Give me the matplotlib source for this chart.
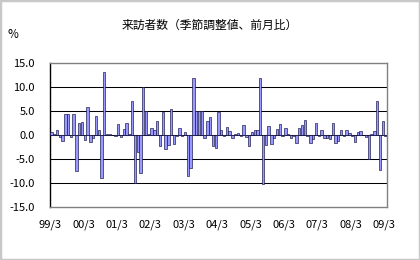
import numpy as np
import matplotlib
matplotlib.use("Agg")
import matplotlib.pyplot as plt
from matplotlib.patches import Rectangle

plt.rcParams['font.family'] = ['Noto Sans CJK JP', 'DejaVu Sans']

title = "来訪者数（季節調整値、前月比）"
y_unit = "%"
x_labels = ["99/3", "00/3", "01/3", "02/3", "03/3", "04/3", "05/3",
            "06/3", "07/3", "08/3", "09/3"]
y_ticks = [-15, -10, -5, 0, 5, 10, 15]

# month-on-month change (%), 1999/3 .. 2009/3
values = [
    0.6, 0.3, 1.0, -0.5, -1.3, 4.3, 4.3, -0.5, 4.3, -7.4, 2.6, 2.8,
    -1.1, 5.8, -1.5, -0.7, 3.9, 1.0, -9.0, 13.2, 0.3, 0.3, 0.0, -0.2,
    2.3, -0.5, 1.2, 2.6, 0.3, 7.0, -9.9, -3.5, -7.9, 10.0, 4.9, 0.3,
    1.5, 1.0, 2.9, -2.3, 4.7, -3.0, -2.0, 5.4, -1.8, -0.3, 1.5, -0.2,
    0.6, -8.5, -6.9, 11.8, 5.0, 5.0, 5.0, -0.6, 3.0, 3.7, -2.2, -2.7,
    4.7, 1.1, -0.3, 1.6, 0.8, -0.6, 0.3, 0.5, -0.2, 2.0, -0.5, -2.3,
    0.7, 1.0, 1.0, 11.8, -10.2, -2.1, 1.8, -1.8, -0.7, 1.3, 2.2, -0.2,
    1.4, 0.2, -0.6, -0.2, -1.7, 1.5, 2.0, 3.1, -0.2, -1.7, -0.9, 2.5,
    -0.2, 1.1, -0.6, -0.6, -0.8, 2.6, -1.6, -1.2, 1.1, -0.3, 1.0, 0.4,
    -0.2, -1.4, 0.6, 0.9, 0.05, -0.4, -4.9, 0.2, 0.9, 7.1, -7.3, 3.0,
    -0.3,
]

W, H = 420, 260
fig = plt.figure(figsize=(W / 100, H / 100), dpi=100)
fig.patch.set_facecolor("white")
fig.patches.append(Rectangle((0, 0), 1, 1, transform=fig.transFigure,
                             fill=False, edgecolor="#c8c8c8", linewidth=2.5))

ax = fig.add_axes([50 / W, 1 - 207 / H, 337 / W, 144 / H])
x = np.arange(len(values))
ax.bar(x, values, width=0.85, color="#9999ff", edgecolor="#101040",
       linewidth=0.45, zorder=3)

ax.set_xlim(-0.5, len(values) - 0.5)
ax.set_ylim(-15, 15)
for yv in [-10, -5, 0, 5, 10]:
    ax.axhline(yv, color="black", linewidth=0.75, zorder=1)

ax.set_yticks(y_ticks)
ax.set_yticklabels([f"{v:.1f}" for v in y_ticks], fontsize=8)
ax.set_xticks(np.arange(0, len(values), 12) - 0.5)
ax.set_xticklabels(x_labels, fontsize=8)
ax.tick_params(axis="y", length=0, pad=11)
ax.tick_params(axis="x", length=0, pad=9)

for s in ["top", "right", "bottom"]:
    ax.spines[s].set_color("#808080")
    ax.spines[s].set_linewidth(1.0)
ax.spines["left"].set_color("black")
ax.spines["left"].set_linewidth(1.0)

fig.text(210 / W, 1 - 25 / H, title, ha="center", va="center", fontsize=8.5)
fig.text(8 / W, 1 - 35 / H, y_unit, ha="left", va="center", fontsize=8.5)

fig.savefig("out.png", dpi=100)
